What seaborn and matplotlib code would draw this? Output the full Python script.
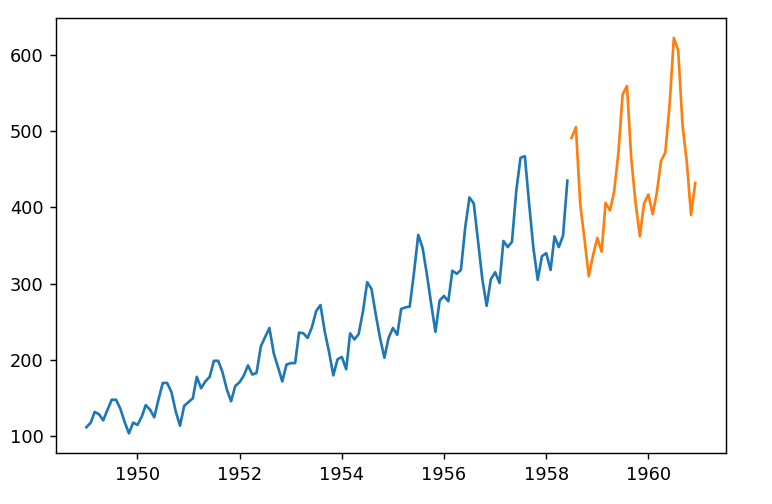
import pandas as pd
import matplotlib
matplotlib.use("Agg")
import matplotlib.pyplot as plt
import seaborn as sns

# monthly airline passengers, 1949-01 .. 1960-12
passengers = [
    112, 118, 132, 129, 121, 135, 148, 148, 136, 119, 104, 118,
    115, 126, 141, 135, 125, 149, 170, 170, 158, 133, 114, 140,
    145, 150, 178, 163, 172, 178, 199, 199, 184, 162, 146, 166,
    171, 180, 193, 181, 183, 218, 230, 242, 209, 191, 172, 194,
    196, 196, 236, 235, 229, 243, 264, 272, 237, 211, 180, 201,
    204, 188, 235, 227, 234, 264, 302, 293, 259, 229, 203, 229,
    242, 233, 267, 269, 270, 315, 364, 347, 312, 274, 237, 278,
    284, 277, 317, 313, 318, 374, 413, 405, 355, 306, 271, 306,
    315, 301, 356, 348, 355, 422, 465, 467, 404, 347, 305, 336,
    340, 318, 362, 348, 363, 435, 491, 505, 404, 359, 310, 337,
    360, 342, 406, 396, 420, 472, 548, 559, 463, 407, 362, 405,
    417, 391, 419, 461, 472, 535, 622, 606, 508, 461, 390, 432,
]
months = pd.date_range("1949-01-01", periods=len(passengers), freq="MS")
split = 114  # train up to 1958-06, test afterwards

train = pd.DataFrame({"month": months[:split], "passengers": passengers[:split]})
test = pd.DataFrame({"month": months[split:], "passengers": passengers[split:]})

fig, ax = plt.subplots(figsize=(772 / 128, 504 / 128), dpi=128)
fig.subplots_adjust(left=0.0725, right=0.940, bottom=0.101, top=0.964)

sns.lineplot(data=train, x="month", y="passengers", ax=ax, color="C0")
sns.lineplot(data=test, x="month", y="passengers", ax=ax, color="C1")

ax.set_xlabel("")
ax.set_ylabel("")

fig.savefig("out.png", dpi=128)
